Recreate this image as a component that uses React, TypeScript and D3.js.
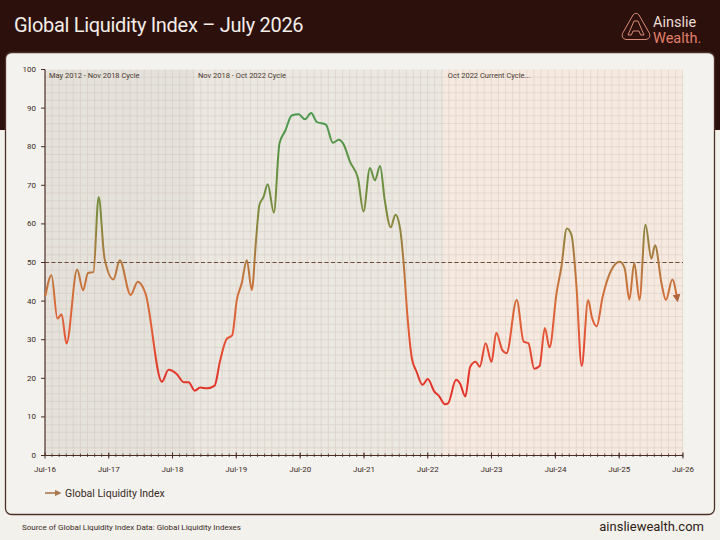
import * as d3 from "d3";

const W = 720;
const H = 540;

// readings (date, index value)
const DATES = [
  "2016-07-04", "2016-08-07", "2016-09-10", "2016-10-04", "2016-11-01", "2017-01-01",
  "2017-02-04", "2017-03-04", "2017-04-04", "2017-05-04", "2017-06-07", "2017-07-28",
  "2017-09-02", "2017-11-03", "2017-12-14", "2018-01-27", "2018-05-01", "2018-06-08",
  "2018-07-25", "2018-09-03", "2018-10-01", "2018-11-05", "2018-12-07", "2019-01-14",
  "2019-02-27", "2019-03-29", "2019-05-07", "2019-06-07", "2019-07-04", "2019-08-01",
  "2019-08-30", "2019-09-28", "2019-10-22", "2019-11-10", "2019-12-04", "2019-12-28",
  "2020-02-01", "2020-03-04", "2020-04-07", "2020-05-13", "2020-06-22", "2020-07-28",
  "2020-09-01", "2020-10-04", "2020-11-25", "2021-01-04", "2021-02-07", "2021-03-04",
  "2021-04-13", "2021-05-28", "2021-06-28", "2021-08-04", "2021-09-01", "2021-10-01",
  "2021-10-28", "2021-12-01", "2021-12-28", "2022-01-25", "2022-02-13", "2022-03-07",
  "2022-04-01", "2022-04-28", "2022-06-01", "2022-07-01", "2022-08-07", "2022-09-04",
  "2022-10-07", "2022-10-25", "2022-12-10", "2023-01-01", "2023-02-01", "2023-03-01",
  "2023-04-01", "2023-04-25", "2023-05-28", "2023-07-01", "2023-07-28", "2023-09-01",
  "2023-09-25", "2023-11-22", "2024-01-01", "2024-01-28", "2024-03-01", "2024-04-01",
  "2024-05-01", "2024-05-28", "2024-07-07", "2024-08-04", "2024-09-04", "2024-10-01",
  "2024-10-28", "2024-11-28", "2025-01-04", "2025-01-25", "2025-02-22", "2025-03-28",
  "2025-05-16", "2025-07-04", "2025-08-01", "2025-08-28", "2025-09-25", "2025-10-25",
  "2025-11-28", "2026-01-01", "2026-01-22", "2026-02-28", "2026-03-25", "2026-05-01",
  "2026-05-28",
];
const VALUES = [
  41.5, 46.7, 35.5, 36.6, 29, 48.2,
  42.8, 47.3, 47.5, 67, 51, 45.6,
  50.6, 41.6, 45, 42, 19.1, 22.2,
  21.1, 19, 19, 16.8, 17.6, 17.4,
  18.1, 24.3, 30.2, 31.1, 40.3, 44.6,
  50.6, 42.9, 55.8, 64.8, 67, 70.3,
  62.9, 80.8, 84.2, 88.1, 88.4, 87.1,
  88.7, 86.4, 85.7, 81, 81.8, 80.8,
  76, 71.7, 63.2, 74.5, 71.3, 75,
  66.1, 59.1, 62.4, 58.4, 49.8, 35.9,
  25.2, 21.7, 18.3, 19.8, 16.6, 15.4,
  13.3, 13.5, 19.6, 18.7, 15.3, 23,
  24.3, 23, 29.1, 24.2, 31.8, 27.3,
  26.5, 40.3, 29.5, 29.1, 22.5, 23.2,
  33, 28, 42, 48.9, 58.8, 57.1,
  44.6, 23.2, 40.3, 35.9, 33.5, 41.1,
  48, 50.2, 48.5, 40.4, 49.9, 40.3,
  59.8, 51, 54.5, 44.6, 40.3, 45.6,
  40.7,
];

const X_TICKS = [
  "2016-07-01", "2017-07-01", "2018-07-01", "2019-07-01", "2020-07-01", "2021-07-01",
  "2022-07-01", "2023-07-01", "2024-07-01", "2025-07-01", "2026-07-01",
];
const Y_TICKS = [0, 10, 20, 30, 40, 50, 60, 70, 80, 90, 100];

const CYCLE_LABELS = ["May 2012 - Nov 2018 Cycle", "Nov 2018 - Oct 2022 Cycle", "Oct 2022 Current Cycle..."];
const CYCLE_STARTS = ["2016-07-01", "2018-11-01", "2022-10-01"];
const CYCLE_ENDS = ["2018-11-01", "2022-10-01", "2026-07-01"];
const CYCLE_FILLS = ["#e5e1db", "#ebe7e1", "#f6e9e0"];

const THRESHOLD = 50;

// colour of the line by value level
const GRADIENT_LEVELS = [0, 20, 32, 42, 52, 62, 72, 88, 100];
const GRADIENT_COLORS = ["#e12c26", "#e2352a", "#e35a36", "#d0713a", "#a97b3f", "#818a3e", "#66913f", "#4a9a50", "#4a9a50"];

const parse = d3.timeParse("%Y-%m-%d");
const FONT = "Roboto, 'Liberation Sans', sans-serif";

export default function App() {
  const left = 45;
  const right = 683;
  const top = 69.5;
  const bottom = 455.5;

  const x = d3
    .scaleTime()
    .domain([parse(X_TICKS[0])!, parse(X_TICKS[X_TICKS.length - 1])!])
    .range([left, right]);
  const y = d3.scaleLinear().domain([0, 100]).range([bottom, top]);

  const points = DATES.map((d, i) => ({ date: parse(d)!, value: VALUES[i] }));
  const line = d3
    .line<{ date: Date; value: number }>()
    .x((d) => x(d.date))
    .y((d) => y(d.value))
    .curve(d3.curveMonotoneX);

  const gridStep = (x(parse(X_TICKS[1])!) - left) / 9;
  const vGrid = d3.range(left + gridStep, right, gridStep);
  const hGrid = d3.range(2, 100, 2);
  const fmt = d3.timeFormat("%b-%y");

  return (
    <svg
      width={W}
      height={H}
      style={{ position: "absolute", left: 0, top: 0, display: "block" }}
      fontFamily={FONT}
    >
      <defs>
        <linearGradient id="gli-line" gradientUnits="userSpaceOnUse" x1={0} x2={0} y1={y(0)} y2={y(100)}>
          {GRADIENT_LEVELS.map((v, i) => (
            <stop key={v} offset={v / 100} stopColor={GRADIENT_COLORS[i]} />
          ))}
        </linearGradient>
        <marker id="gli-arrow" viewBox="0 0 10 10" refX={5} refY={5} markerWidth={4} markerHeight={4} orient="auto">
          <path d="M0,0 L10,5 L0,10 z" fill="#b0653c" />
        </marker>
        <marker id="legend-arrow" viewBox="0 0 10 10" refX={8} refY={5} markerWidth={4} markerHeight={4} orient="auto">
          <path d="M0,0 L10,5 L0,10 z" fill="#a9784c" />
        </marker>
      </defs>

      {/* page background */}
      <rect x={0} y={0} width={W} height={H} fill="#f3f1ec" />
      <rect x={0} y={0} width={W} height={130} fill="#2b100b" />

      {/* header */}
      <text x={14} y={32} fill="#f4ede8" fontSize={20} letterSpacing={-0.3}>
        Global Liquidity Index – July 2026
      </text>
      <g transform="translate(636,28)" fill="none" stroke="#d98a76" strokeWidth={1}>
        <path d="M-3,-13 Q0,-16.5 3,-13 L13.5,5.5 Q15,10.5 10,11.5 L-10,11.5 Q-15,10.5 -13.5,5.5 Z" />
        <path d="M-2,-7 L2,-7 L8,7 L4.6,7 L3,3 L-3,3 L-4.6,7 L-8,7 Z" />
      </g>
      <text x={653} y={27} fill="#eddcd4" fontSize={14.5}>
        Ainslie
      </text>
      <text x={653} y={43} fill="#e0806a" fontSize={14.5}>
        Wealth.
      </text>

      {/* card */}
      <rect x={5.5} y={52.5} width={709} height={462} rx={6} fill="#f4f2ee" stroke="#4d3027" strokeWidth={1.3} />

      {/* cycle bands */}
      {CYCLE_STARTS.map((s, i) => (
        <rect
          key={s}
          x={x(parse(s)!)}
          y={top}
          width={x(parse(CYCLE_ENDS[i])!) - x(parse(s)!)}
          height={bottom - top}
          fill={CYCLE_FILLS[i]}
        />
      ))}

      {/* grid */}
      <g stroke="#cdbfb3" strokeWidth={0.6} opacity={0.6}>
        {vGrid.map((gx) => (
          <line key={`v${gx}`} x1={gx} x2={gx} y1={top} y2={bottom} />
        ))}
        {hGrid.map((v) => (
          <line key={`h${v}`} x1={left} x2={right} y1={y(v)} y2={y(v)} />
        ))}
      </g>

      {/* cycle labels */}
      {CYCLE_LABELS.map((label, i) => (
        <text key={label} x={x(parse(CYCLE_STARTS[i])!) + 4} y={top + 8.5} fontSize={7.5} fill="#4a3a33">
          {label}
        </text>
      ))}

      {/* threshold */}
      <line
        x1={left}
        x2={right}
        y1={y(THRESHOLD)}
        y2={y(THRESHOLD)}
        stroke="#6b4a3a"
        strokeWidth={1.2}
        strokeDasharray="4,2.5"
      />

      {/* y axis */}
      <line x1={left} x2={left} y1={top} y2={bottom} stroke="#4a2e25" strokeWidth={1.2} />
      {Y_TICKS.map((t) => (
        <g key={t} transform={`translate(0,${y(t)})`}>
          <line x1={left - 4} x2={left} stroke="#4a2e25" strokeWidth={1} />
          <text x={left - 9} dy="0.32em" textAnchor="end" fontSize={8} fill="#3a2a24">
            {t}
          </text>
        </g>
      ))}

      {/* x axis */}
      <line x1={left} x2={right} y1={bottom} y2={bottom} stroke="#4a2e25" strokeWidth={1.2} />
      {vGrid.map((gx) => (
        <line key={`m${gx}`} x1={gx} x2={gx} y1={bottom - 2} y2={bottom + 1.5} stroke="#4a2e25" strokeWidth={0.8} />
      ))}
      {X_TICKS.map((t) => {
        const tx = x(parse(t)!);
        return (
          <g key={t} transform={`translate(${tx},${bottom})`}>
            <line y1={-3} y2={3} stroke="#4a2e25" strokeWidth={1} />
            <text y={16} textAnchor="middle" fontSize={8} fill="#3a2a24">
              {fmt(parse(t)!)}
            </text>
          </g>
        );
      })}

      {/* series */}
      <path
        d={line(points) ?? ""}
        fill="none"
        stroke="url(#gli-line)"
        strokeWidth={2}
        strokeLinejoin="round"
        strokeLinecap="round"
        markerEnd="url(#gli-arrow)"
      />

      {/* legend */}
      <line x1={45} x2={60} y1={493} y2={493} stroke="#a9784c" strokeWidth={1.6} markerEnd="url(#legend-arrow)" />
      <text x={65} y={497} fontSize={10.5} fill="#3a2a24">
        Global Liquidity Index
      </text>

      {/* footer */}
      <text x={22} y={530} fontSize={8} fill="#3a2a24">
        Source of Global Liquidity Index Data: Global Liquidity Indexes
      </text>
      <text x={704} y={531} textAnchor="end" fontSize={13} fill="#2e1d18">
        ainsliewealth.com
      </text>
    </svg>
  );
}
